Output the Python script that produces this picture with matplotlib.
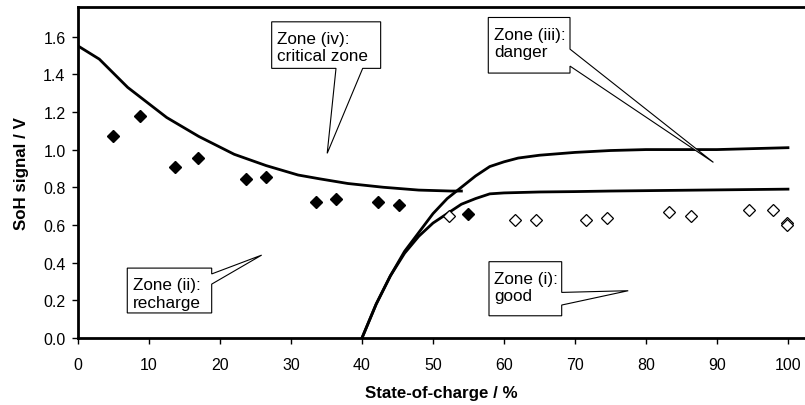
import matplotlib
matplotlib.use("Agg")
import matplotlib.pyplot as plt
from matplotlib.patches import Polygon
from matplotlib.ticker import FormatStrFormatter

plt.rcParams["font.family"] = ["Liberation Sans", "DejaVu Sans"]

# measured SoH signal, filled = recharge region, open = good region
soc_filled = [4.9, 8.8, 13.7, 16.9, 23.7, 26.5, 33.5, 36.3, 42.3, 45.2, 55.0]
soh_filled = [1.07, 1.18, 0.905, 0.953, 0.843, 0.856, 0.72, 0.74, 0.72, 0.707, 0.658]
soc_open = [52.3, 61.5, 64.5, 71.6, 74.5, 83.3, 86.4, 94.5, 97.9, 99.9, 99.9]
soh_open = [0.645, 0.628, 0.628, 0.628, 0.637, 0.667, 0.645, 0.679, 0.679, 0.612, 0.602]

# critical boundary (decaying)
soc_crit = [0, 3, 7, 12.5, 17, 22, 26.5, 31, 34, 38, 43, 48, 52.5, 54]
soh_crit = [1.55, 1.48, 1.33, 1.17, 1.07, 0.975, 0.915, 0.865, 0.845, 0.82, 0.80, 0.785, 0.78, 0.78]

# danger boundary (upper rising) and good boundary (lower rising)
soc_rise = [40, 42, 44, 46, 48, 50, 52, 54, 56, 58, 60, 62, 65, 70, 75, 80, 90, 100]
soh_danger = [0, 0.18, 0.33, 0.46, 0.56, 0.66, 0.74, 0.80, 0.86, 0.91, 0.935, 0.955, 0.97, 0.985, 0.995, 1.0, 1.0, 1.01]
soh_good = [0, 0.18, 0.33, 0.45, 0.54, 0.61, 0.66, 0.71, 0.74, 0.765, 0.77, 0.772, 0.775, 0.777, 0.78, 0.782, 0.786, 0.79]

xticks = list(range(0, 101, 10))
yticks = [0.0, 0.2, 0.4, 0.6, 0.8, 1.0, 1.2, 1.4, 1.6]

fig = plt.figure(figsize=(8.05, 4.06), dpi=100)
ax = fig.add_axes([0.0969, 0.165, 0.9031, 0.815])

ax.plot(soc_crit, soh_crit, color="black", lw=2.0, zorder=3)
ax.plot(soc_rise, soh_danger, color="black", lw=2.0, zorder=3)
ax.plot(soc_rise, soh_good, color="black", lw=2.0, zorder=3)
ax.plot(soc_filled, soh_filled, "D", color="black", ms=6.5, ls="none", zorder=4)
ax.plot(soc_open, soh_open, "D", mfc="white", mec="black", mew=0.9, ms=6.5,
        ls="none", zorder=4)

ax.set_xlim(0, 102.4)
ax.set_ylim(0, 1.756)
ax.set_xticks(xticks)
ax.set_yticks(yticks)
ax.yaxis.set_major_formatter(FormatStrFormatter("%.1f"))
ax.tick_params(direction="out", length=4, width=1.0, labelsize=11.5)
ax.tick_params(axis="x", pad=10)
ax.tick_params(axis="y", pad=5)

for side in ["left", "bottom", "top"]:
    ax.spines[side].set_linewidth(2.0)
ax.spines["right"].set_visible(False)

ax.set_xlabel("State-of-charge / %", fontsize=12.2, fontweight="bold", labelpad=9)
ax.set_ylabel("SoH signal / V", fontsize=12.2, fontweight="bold", labelpad=10)


def callout(text, box, tip, base, side):
    # box = (x0, x1, y_bottom, y_top) in data units; wedge leaves `side`
    x0, x1, yb, yt = box
    if side == "bottom":
        pts = [(x0, yt), (x1, yt), (x1, yb), (base[1], yb), tip,
               (base[0], yb), (x0, yb)]
    else:
        pts = [(x0, yt), (x1, yt), (x1, base[0]), tip, (x1, base[1]),
               (x1, yb), (x0, yb)]
    ax.add_patch(Polygon(pts, closed=True, fc="white", ec="black", lw=0.8,
                         zorder=5, clip_on=False))
    # va="baseline" pins the last line's baseline
    ax.text(x0 + 0.77, yt - 0.205, text, fontsize=12.3, ha="left",
            va="baseline", linespacing=1.2, zorder=6)


callout("Zone (iv):\ncritical zone", (27.28, 42.63, 1.431, 1.678),
        (35.1, 0.98), (36.34, 40.10), "bottom")
callout("Zone (iii):\ndanger", (57.79, 69.30, 1.406, 1.701),
        (89.5, 0.932), (1.533, 1.443), "right")
callout("Zone (ii):\nrecharge", (6.94, 18.83, 0.133, 0.371),
        (25.87, 0.440), (0.340, 0.286), "right")
callout("Zone (i):\ngood", (57.89, 68.13, 0.118, 0.405),
        (77.5, 0.251), (0.242, 0.175), "right")

fig.savefig("out.png", dpi=100)
